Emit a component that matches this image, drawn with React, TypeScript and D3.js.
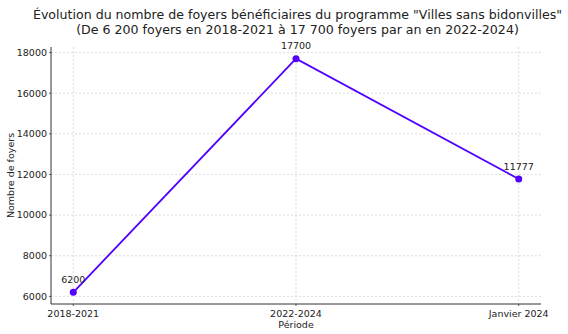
import React from "react";
import * as d3 from "d3";

const categories = ["2018-2021", "2022-2024", "Janvier 2024"];
const values = [6200, 17700, 11777];
const yTicks = [6000, 8000, 10000, 12000, 14000, 16000, 18000];
const titleLines = [
  "Évolution du nombre de foyers bénéficiaires du programme \"Villes sans bidonvilles\"",
  "(De 6 200 foyers en 2018-2021 à 17 700 foyers par an en 2022-2024)",
];

const W = 568, H = 334;
const L = 51, R = 541, T = 47, B = 304;
const font = "DejaVu Sans, sans-serif";
const color = "#5200ff";
const fs = 9.5;

export default function App() {
  const x = d3.scaleLinear().domain([-0.1, categories.length - 1 + 0.1]).range([L, R]);
  const span = 17700 - 6200;
  const y = d3.scaleLinear().domain([6200 - span * 0.05, 17700 + span * 0.05]).range([B, T]);
  const line = d3.line<number>().x((_, i) => x(i)).y((d) => y(d));
  return (
    <svg width={W} height={H} style={{ position: "absolute", left: 0, top: 0 }} fontFamily={font}>
      <rect width={W} height={H} fill="#fff" />
      {titleLines.map((t, i) => (
        <text key={i} x={297.5} y={19 + i * 15} textAnchor="middle" fontSize={12.6} fill="#222">{t}</text>
      ))}
      {yTicks.map((t) => (
        <g key={t}>
          <line x1={L} x2={R} y1={y(t)} y2={y(t)} stroke="#d4d4d4" strokeWidth={0.8} strokeDasharray="2,2" />
          <line x1={L - 2} x2={L} y1={y(t)} y2={y(t)} stroke="#333" strokeWidth={0.8} />
          <text x={L - 4} y={y(t)} dy="0.35em" textAnchor="end" fontSize={fs} fill="#222">{t}</text>
        </g>
      ))}
      {categories.map((c, i) => (
        <g key={c}>
          <line x1={x(i)} x2={x(i)} y1={T} y2={B} stroke="#d4d4d4" strokeWidth={0.8} strokeDasharray="2,2" />
          <line x1={x(i)} x2={x(i)} y1={B} y2={B + 2} stroke="#333" strokeWidth={0.8} />
          <text x={x(i)} y={B + 12.5} textAnchor="middle" fontSize={fs} fill="#222">{c}</text>
        </g>
      ))}
      <line x1={L} x2={L} y1={T} y2={B} stroke="#333" strokeWidth={1} />
      <line x1={L} x2={R} y1={B} y2={B} stroke="#333" strokeWidth={1} />
      <path d={line(values) || ""} fill="none" stroke={color} strokeWidth={1.8} />
      {values.map((v, i) => (
        <g key={i}>
          <circle cx={x(i)} cy={y(v)} r={3.5} fill={color} />
          <text x={x(i)} y={y(v) - 9.5} textAnchor="middle" fontSize={fs} fill="#222">{v}</text>
        </g>
      ))}
      <text x={(L + R) / 2} y={328} textAnchor="middle" fontSize={fs} fill="#222">Période</text>
      <text transform={`translate(14,${(T + B) / 2}) rotate(-90)`} textAnchor="middle" fontSize={fs} fill="#222">Nombre de foyers</text>
    </svg>
  );
}
